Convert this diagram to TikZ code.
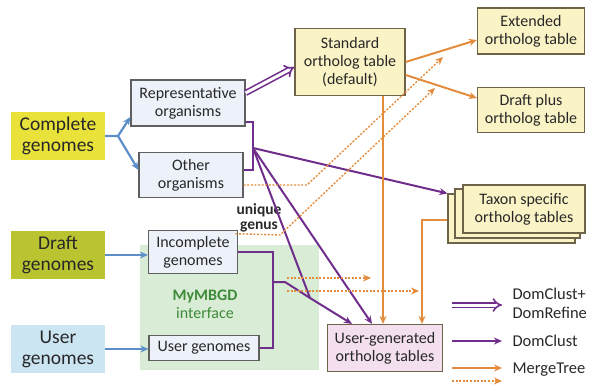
\documentclass[tikz,border=0pt]{standalone}
\usepackage{fontspec}
\setmainfont{Carlito}
\usetikzlibrary{arrows.meta}

\definecolor{txtgrey}{RGB}{40,40,40}
\definecolor{cgyellow}{RGB}{233,226,58}
\definecolor{draftgreen}{RGB}{186,196,48}
\definecolor{userblue}{RGB}{203,229,243}
\definecolor{orgfill}{RGB}{237,242,250}
\definecolor{boxline}{RGB}{95,95,95}
\definecolor{tabfill}{RGB}{250,243,198}
\definecolor{tabline}{RGB}{110,98,72}
\definecolor{pinkfill}{RGB}{243,223,237}
\definecolor{areagreen}{RGB}{217,236,213}
\definecolor{mbgdgreen}{RGB}{62,138,58}
\definecolor{purp}{RGB}{112,46,140}
\definecolor{orng}{RGB}{228,140,62}
\definecolor{flowblue}{RGB}{92,142,202}

\tikzset{
	srcbox/.style={minimum width=94pt, minimum height=48pt, align=center, text=txtgrey, font=\fontsize{19.5}{21}\selectfont},
	orgbox/.style={draw=boxline, fill=orgfill, line width=1.2pt, align=center, inner sep=1pt, text=txtgrey, font=\fontsize{16}{18}\selectfont},
	tabbox/.style={draw=tabline, fill=tabfill, line width=1.2pt, align=center, inner sep=1pt, text=txtgrey, font=\fontsize{16}{18}\selectfont},
	bluearr/.style={draw=flowblue, line width=2.2pt, ->},
	purparr/.style={draw=purp, line width=2pt},
	purpdbl/.style={draw=purp, double=white, double distance=3pt, line width=1.6pt, -{Implies}},
	orngarr/.style={draw=orng, line width=2pt},
	orngdot/.style={draw=orng, line width=1.4pt, dash pattern=on 2pt off 1.6pt, ->},
	legtext/.style={anchor=west, align=left, text=txtgrey, font=\fontsize{16.5}{19}\selectfont}
}

\begin{document}
\begin{tikzpicture}[x=1pt, y=-1pt, >={Stealth[length=8pt,width=7pt]}]
	\useasboundingbox (0,0) rectangle (589,385);
	\fill[areagreen] (140,245) rectangle (319,370);
	\node[align=center, text=mbgdgreen, font=\fontsize{16}{18}\selectfont] (mymbgd) at (205,304) {\textbf{MyMBGD}\\interface};
	
	\node[srcbox, fill=cgyellow] (complete) at (58,136) {Complete\\genomes};
	\node[srcbox, fill=draftgreen] (draft) at (58,255) {Draft\\genomes};
	\node[srcbox, fill=userblue] (user) at (58,349) {User\\genomes};
	
	\node[orgbox, minimum width=114pt, minimum height=46pt] (rep) at (188,103) {Representative\\organisms};
	\node[orgbox, minimum width=104pt, minimum height=45pt] (other) at (191,175) {Other\\organisms};
	\node[orgbox, minimum width=89pt, minimum height=43pt] (incomplete) at (193,252) {Incomplete\\genomes};
	\node[orgbox, minimum width=110pt, minimum height=25pt] (usergen) at (204,348) {User genomes};
	
	\node[tabbox, minimum width=110pt, minimum height=67pt] (standard) at (350,62) {Standard\\ortholog table\\(default)};
	\node[tabbox, minimum width=107pt, minimum height=46pt] (extended) at (531,31) {Extended\\ortholog table};
	\node[tabbox, minimum width=107pt, minimum height=45pt] (draftplus) at (531,110) {Draft plus\\ortholog table};
	\node[tabbox, minimum width=127pt, minimum height=49pt] (taxonb) at (511.5,218.5) {};
	\node[tabbox, minimum width=125pt, minimum height=49pt] (taxonm) at (517.5,213.5) {};
	\node[tabbox, minimum width=122pt, minimum height=48pt] (taxon) at (524,209) {Taxon specific\\ortholog tables};
	\node[tabbox, fill=pinkfill, minimum width=115pt, minimum height=47pt] (usergenerated) at (385,348) {User-generated\\ortholog tables};
	
	\node[align=center, text=txtgrey, inner sep=1pt, font=\bfseries\fontsize{15.5}{15.5}\selectfont] (unique) at (259,218) {unique\\genus};
	
	\coordinate (fork) at (118,136);
	\coordinate (orgjoin) at (253,148);
	\coordinate (userjoin) at (273,282);
	\coordinate (userbend) at (285,282);
	\coordinate (merge) at (310,298);
	
	\draw[bluearr] (complete.east) -- (fork) -- ([yshift=-14pt]rep.west);
	\draw[bluearr] (fork) -- ([yshift=5pt]other.west);
	\draw[bluearr] (draft.east) -- (draft.east -| incomplete.west);
	\draw[bluearr] (user.east) -- (user.east -| usergen.west);
	
	\draw[purpdbl] ([yshift=10pt]rep.east) -- ([yshift=-5pt]standard.west);
	\draw[purparr] ([yshift=-19pt]rep.east) -| (orgjoin) |- ([yshift=5pt]other.east);
	\draw[purparr, ->] (orgjoin) -- (taxonb.north west);
	\draw[purparr, ->] (orgjoin) -- ([xshift=-13pt]usergenerated.north);
	\draw[purparr] (orgjoin) -- (merge);
	\draw[purparr] (incomplete.east) -| (userjoin) |- (usergen.east);
	\draw[purparr, ->] (userjoin) -- (userbend) -- (merge) -- ([xshift=-33pt]usergenerated.north);
	
	\draw[orngarr, ->] (standard.east) -- ([yshift=-9pt]extended.west);
	\draw[orngarr, ->] ([yshift=-13pt]standard.east) -- ([yshift=12pt]draftplus.west);
	\draw[orngarr, ->] ([xshift=33pt]standard.south) -- ([xshift=33pt]standard.south |- usergenerated.north);
	\draw[orngarr, ->] ([yshift=-1.5pt]taxonb.west) -| ([xshift=37pt]usergenerated.north);
	
	\coordinate (dotup) at (443,57);
	\coordinate (dotlow) at (435,88);
	\coordinate (dotbendup) at (307,185);
	\coordinate (dotbendlow) at (280,235);
	\draw[orngdot] ([yshift=-10pt]other.east) -- (dotbendup) -- (dotup);
	\draw[orngdot] (unique.south west) -- (dotbendlow) -- (dotlow);
	\coordinate (dotsa) at (287,278);
	\coordinate (dotsb) at (287,291);
	\coordinate (dotea) at (371,278);
	\coordinate (doteb) at (419,291);
	\draw[orngdot] (dotsa) -- (dotea);
	\draw[orngdot] (dotsb) -- (doteb);
	
	\coordinate (leg1a) at (452,305);
	\coordinate (leg1b) at (502,305);
	\coordinate (leg2a) at (452,341);
	\coordinate (leg2b) at (502,341);
	\coordinate (leg3a) at (452,368);
	\coordinate (leg3b) at (502,368);
	\coordinate (leg4a) at (452,381);
	\coordinate (leg4b) at (502,381);
	\draw[purpdbl] (leg1a) -- (leg1b);
	\draw[purparr, ->] (leg2a) -- (leg2b);
	\draw[orngarr, ->] (leg3a) -- (leg3b);
	\draw[orngdot] (leg4a) -- (leg4b);
	\node[legtext] (legdomref) at (509,303) {DomClust+\\DomRefine};
	\node[legtext] (legdomclust) at (509,341) {DomClust};
	\node[legtext] (legmerge) at (509,370) {MergeTree};
\end{tikzpicture}
\end{document}
